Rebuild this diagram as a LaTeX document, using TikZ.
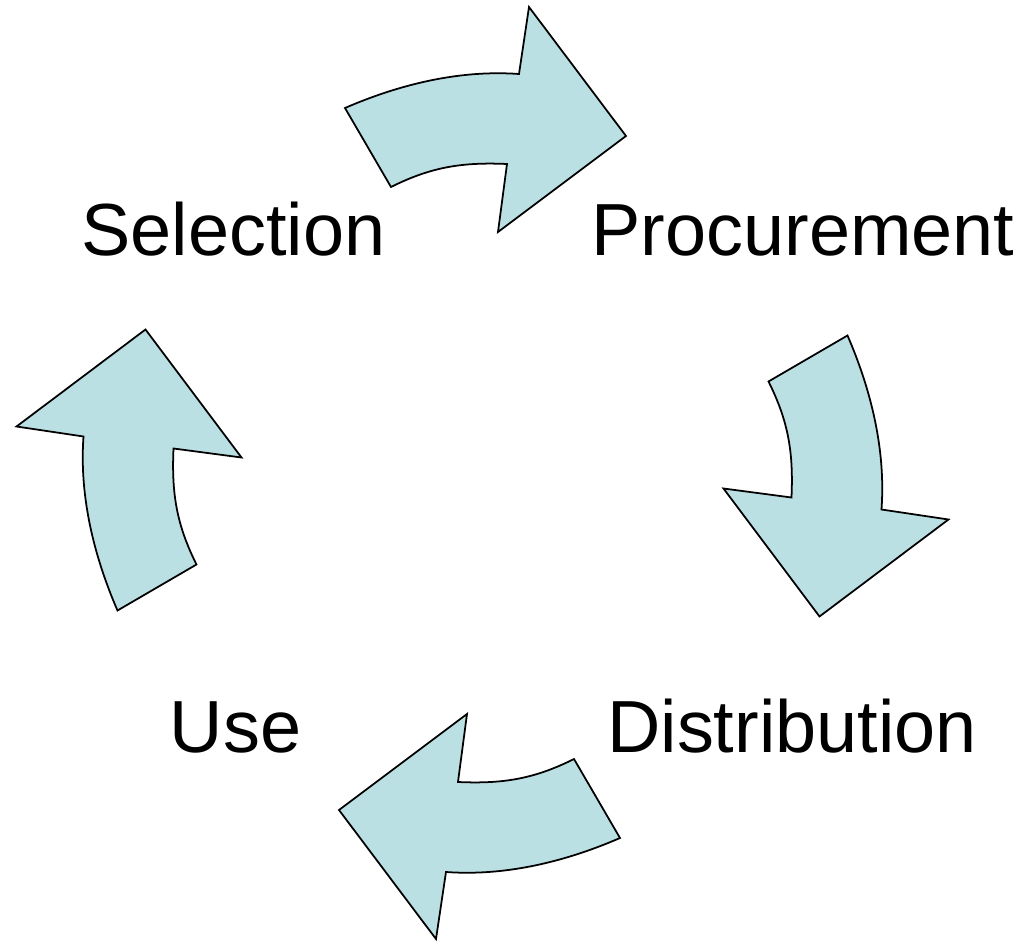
\documentclass[tikz,border=0pt]{standalone}
\usepackage{fontspec}
\setmainfont{Liberation Sans}
\usepackage{xcolor}
\usepackage{tikz}
\definecolor{arrowfill}{RGB}{187,224,228}

\tikzset{
  cycle arrow/.style={draw=black, line width=0.5pt, fill=arrowfill, line join=miter},
  stage/.style={font=\fontsize{21}{25}\selectfont, inner sep=0pt, anchor=base}
}

\begin{document}
\begin{tikzpicture}[x=0.01cm, y=-0.01cm]

\useasboundingbox (0,0) rectangle (1026,942);
\coordinate (ctr) at (482.5,473);

% one block arrow, turned a quarter each time
\foreach \k in {0,...,3}
  \draw [cycle arrow, rotate around={-90*\k:(ctr)}]
    (345,108) .. controls (405,82) and (464,70) .. (519,74)
    -- (529,7) -- (626,136) -- (498,232) -- (507,164)
    .. controls (462,162) and (431,167) .. (391,187) -- cycle;

\node [stage] (selection)    at (233.5,255) {Selection};
\node [stage] (procurement)  at (803,255)   {Procurement};
\node [stage] (distribution) at (792,752)   {Distribution};
\node [stage] (use)          at (235.5,752) {Use};

\end{tikzpicture}
\end{document}
